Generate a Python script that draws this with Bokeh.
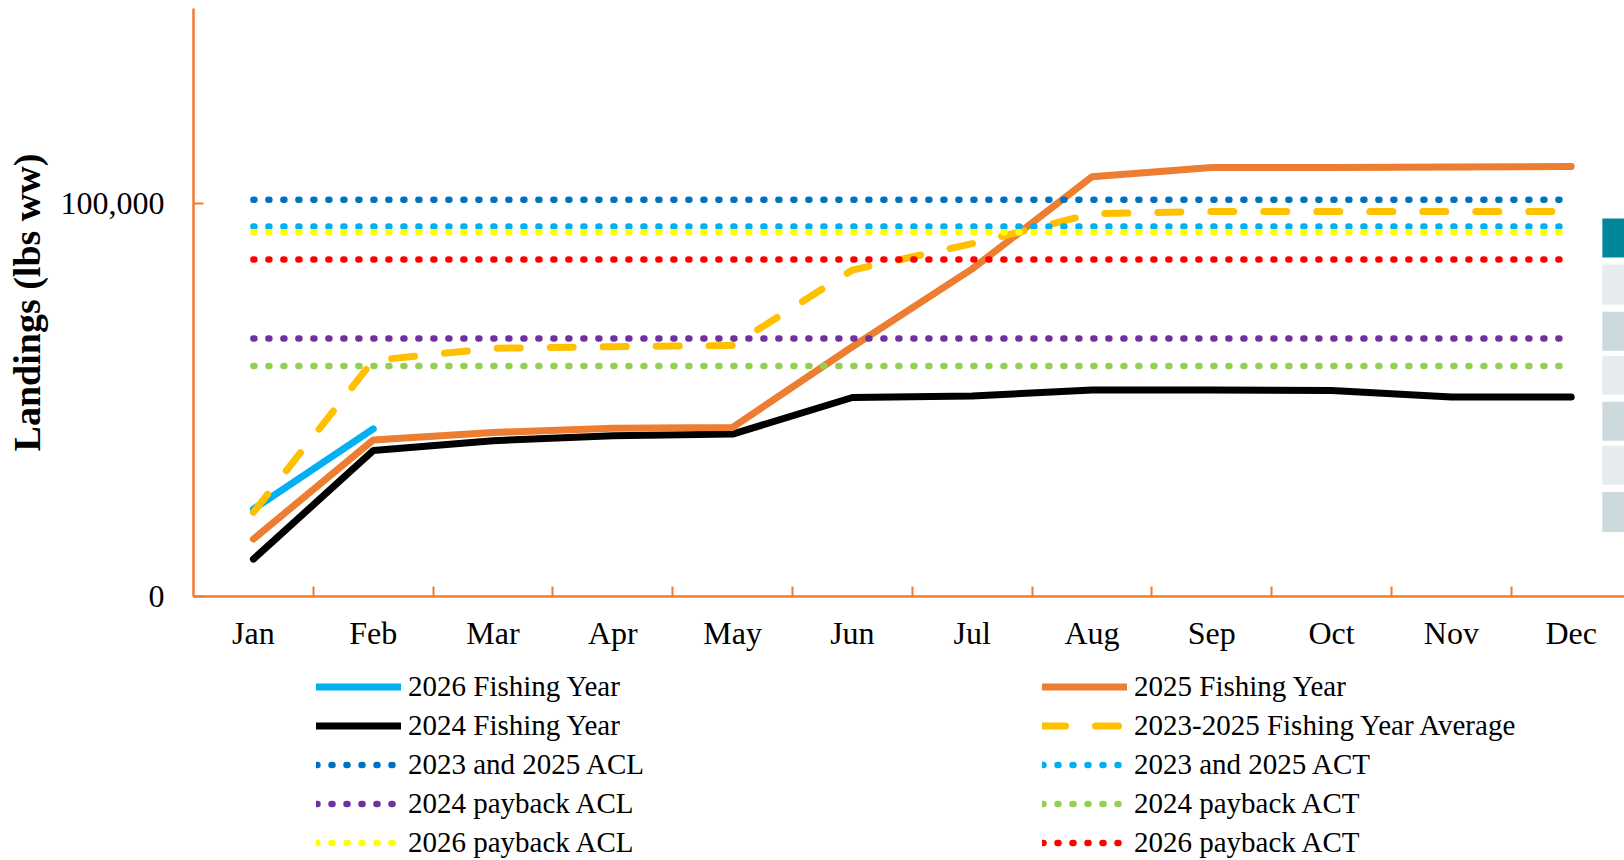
from bokeh.plotting import figure
from bokeh.layouts import column
from bokeh.models import (FixedTicker, NumeralTickFormatter, Legend, LegendItem,
                          Range1d, BoxAnnotation)
from bokeh.embed import file_html
from bokeh.resources import INLINE

# ---------------- data ----------------
months = ["Jan", "Feb", "Mar", "Apr", "May", "Jun",
          "Jul", "Aug", "Sep", "Oct", "Nov", "Dec"]
fy2026 = [22200, 42600]
fy2025 = [14600, 39800, 41700, 42800, 43000, 63500,
          83300, 106700, 109100, 109100, 109200, 109300]
fy2024 = [9500, 37100, 39600, 40900, 41300, 50600,
          51000, 52500, 52500, 52400, 50700, 50700]
avg_2023_2025 = [21400, 60000, 63100, 63500, 63800, 83000,
                 89700, 97300, 97900, 97900, 97900, 97900]
acl_2023_2025 = 100900
act_2023_2025 = 94100
payback_acl_2024 = 65600
payback_act_2024 = 58600
payback_acl_2026 = 92600
payback_act_2026 = 85700

x = list(range(1, len(months) + 1))

ORANGE = "#ED7D31"
FONT = "Liberation Serif"

# series: label -> (x values, y values)
series = {
    "2026 Fishing Year": (x[:len(fy2026)], fy2026),
    "2025 Fishing Year": (x, fy2025),
    "2024 Fishing Year": (x, fy2024),
    "2023-2025 Fishing Year Average": (x, avg_2023_2025),
    "2023 and 2025 ACL": (x, [acl_2023_2025] * len(x)),
    "2023 and 2025 ACT": (x, [act_2023_2025] * len(x)),
    "2024 payback ACL": (x, [payback_acl_2024] * len(x)),
    "2024 payback ACT": (x, [payback_act_2024] * len(x)),
    "2026 payback ACL": (x, [payback_acl_2026] * len(x)),
    "2026 payback ACT": (x, [payback_act_2026] * len(x)),
}

dots = dict(line_width=6.5, line_dash="1 14", line_cap="round")
styles = {
    "2026 Fishing Year": dict(line_color="#00B0F0", line_width=7, line_cap="round"),
    "2025 Fishing Year": dict(line_color=ORANGE, line_width=7, line_cap="round"),
    "2024 Fishing Year": dict(line_color="black", line_width=7, line_cap="round"),
    "2023-2025 Fishing Year Average": dict(line_color="#FFC000", line_width=7,
                                           line_dash="23 30", line_cap="round"),
    "2023 and 2025 ACL": dict(line_color="#0070C0", **dots),
    "2023 and 2025 ACT": dict(line_color="#00B0F0", **dots),
    "2024 payback ACL": dict(line_color="#7030A0", **dots),
    "2024 payback ACT": dict(line_color="#92D050", **dots),
    "2026 payback ACL": dict(line_color="#FFFF00", **dots),
    "2026 payback ACT": dict(line_color="#FF0000", **dots),
}

# drawing order (later on top)
draw_order = ["2024 Fishing Year", "2025 Fishing Year", "2026 Fishing Year",
              "2023-2025 Fishing Year Average", "2023 and 2025 ACL",
              "2024 payback ACL", "2024 payback ACT", "2023 and 2025 ACT",
              "2026 payback ACL", "2026 payback ACT"]

# ---------------- main chart ----------------
p = figure(width=1624, height=660, output_backend="svg", toolbar_location=None,
           x_range=Range1d(0.5, 12.445), y_range=Range1d(0, 149500),
           min_border_left=193, min_border_right=0, min_border_top=8,
           min_border_bottom=64)
p.outline_line_color = None
p.xgrid.visible = False
p.ygrid.visible = False
p.background_fill_color = "white"
p.border_fill_color = "white"

# decorative boxes at right edge (cut-off panel in the original screenshot)
box_specs = [(96100, 86200, "#00889A"), (84400, 74200, "#E6ECEE"),
             (72400, 62500, "#CCDADE"), (61200, 51300, "#E6ECEE"),
             (49500, 39600, "#CCDADE"), (38300, 28400, "#E6ECEE"),
             (26600, 16400, "#CCDADE")]
for top, bottom, col in box_specs:
    p.add_layout(BoxAnnotation(left=12.26, right=12.8, top=top, bottom=bottom,
                               fill_color=col, fill_alpha=1.0, line_color=None,
                               level="underlay"))

for lbl in draw_order:
    xs, ys = series[lbl]
    p.line(xs, ys, **styles[lbl])

# axes
xa = p.xaxis[0]
xa.ticker = FixedTicker(ticks=x, minor_ticks=[v + 0.5 for v in x[:-1]])
xa.major_label_overrides = {v: m for v, m in zip(x, months)}
xa.axis_line_color = ORANGE
xa.axis_line_width = 2.5
xa.major_tick_line_color = None
xa.major_tick_in = 0
xa.major_tick_out = 0
xa.minor_tick_line_color = ORANGE
xa.minor_tick_line_width = 2
xa.minor_tick_in = 10
xa.minor_tick_out = 0
xa.major_label_standoff = 18
xa.major_label_text_font = FONT
xa.major_label_text_font_size = "32px"
xa.major_label_text_color = "black"

ya = p.yaxis[0]
ya.ticker = FixedTicker(ticks=[0, 100000])
ya.formatter = NumeralTickFormatter(format="0,0")
ya.axis_line_color = ORANGE
ya.axis_line_width = 2.5
ya.major_tick_line_color = ORANGE
ya.major_tick_line_width = 2
ya.major_tick_in = 10
ya.major_tick_out = 0
ya.minor_tick_line_color = None
ya.major_label_standoff = 29
ya.major_label_text_font = FONT
ya.major_label_text_font_size = "32px"
ya.major_label_text_color = "black"
ya.axis_label = "Landings (lbs ww)"
ya.axis_label_text_font = FONT
ya.axis_label_text_font_size = "38px"
ya.axis_label_text_font_style = "bold"
ya.axis_label_text_color = "black"
ya.axis_label_standoff = 10

# ---------------- legend strip (frame aligned with the chart frame) ----------------
lf = figure(width=1624, height=200, output_backend="svg", toolbar_location=None,
            x_range=Range1d(0, 1), y_range=Range1d(0, 1),
            min_border_left=0, min_border_right=0, min_border_top=0,
            min_border_bottom=0)
lf.axis.visible = False
lf.grid.visible = False
lf.outline_line_color = None
lf.background_fill_color = "white"
lf.border_fill_color = "white"

left_labels = ["2026 Fishing Year", "2024 Fishing Year", "2023 and 2025 ACL",
               "2024 payback ACL", "2026 payback ACL"]
right_labels = ["2025 Fishing Year", "2023-2025 Fishing Year Average",
                "2023 and 2025 ACT", "2024 payback ACT", "2026 payback ACT"]

def make_legend(labels, loc):
    items = []
    for lbl in labels:
        xs, ys = series[lbl]
        r = lf.line(xs, ys, **styles[lbl])   # off-range: only used for the legend key
        items.append(LegendItem(label=lbl, renderers=[r]))
    return Legend(items=items, location=loc, orientation="vertical",
                  glyph_width=85, glyph_height=39, label_height=39,
                  label_standoff=7, spacing=0, padding=0, margin=0,
                  border_line_color=None, background_fill_alpha=0,
                  label_text_font=FONT, label_text_font_size="29px",
                  label_text_color="black")

lf.add_layout(make_legend(left_labels, (123, -2)))
lf.add_layout(make_legend(right_labels, (849, -2)))

layout = column(p, lf, spacing=0)
open("out.html", "w").write(file_html(layout, INLINE))
